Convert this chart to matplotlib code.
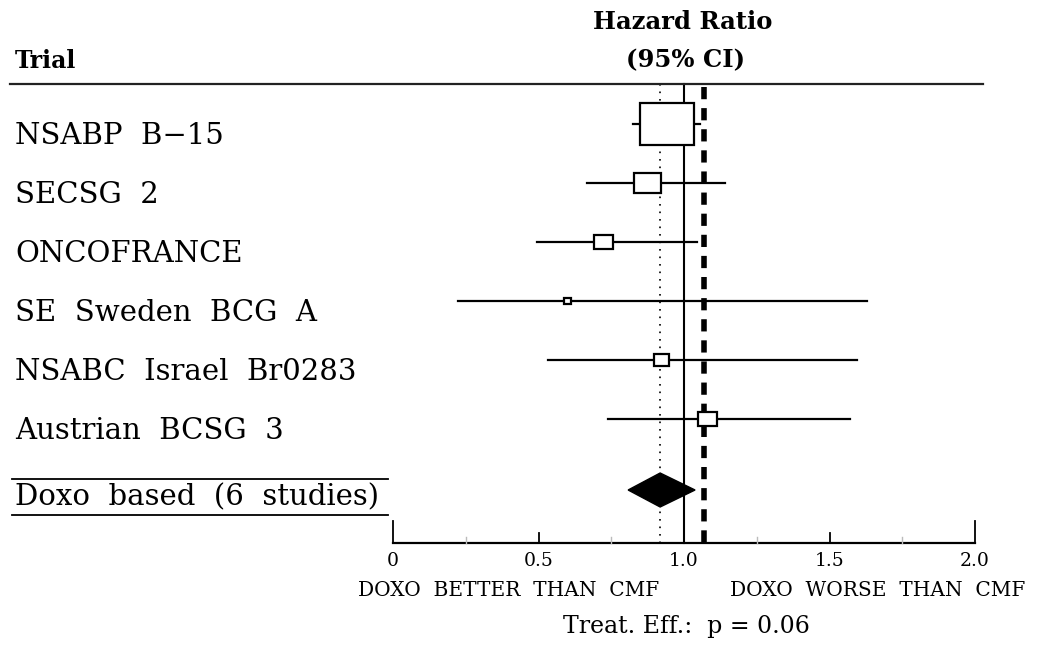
import numpy as np
import matplotlib
matplotlib.use('Agg')
import matplotlib.pyplot as plt
from matplotlib.patches import Rectangle, Polygon

# data
trials = ['NSABP  B\u221215', 'SECSG  2', 'ONCOFRANCE', 'SE  Sweden  BCG  A',
          'NSABC  Israel  Br0283', 'Austrian  BCSG  3']
hr = [0.943, 0.875, 0.723, 0.600, 0.923, 1.081]
ci_low = [0.825, 0.667, 0.495, 0.223, 0.533, 0.739]
ci_high = [1.055, 1.141, 1.045, 1.629, 1.595, 1.570]
weights = [62.8, 15.7, 7.8, 1.1, 4.8, 7.8]  # % weight -> box area

pooled_label = 'Doxo  based  (6  studies)'
pooled_hr = 0.918
pooled_low = 0.808
pooled_high = 1.038
ref_dashed = 1.07

tick_vals = [0, 0.5, 1.0, 1.5, 2.0]
tick_labels = ['0', '0.5', '1.0', '1.5', '2.0']
minor_vals = [0.25, 0.75, 1.25, 1.75]

# layout (pixels of a 1042x648 picture)
W, H = 1042, 648
X0, PXU = 393, 291      # x pixel of HR=0, pixels per HR unit
Y0, ROW = 124, 59       # y pixel of first row, pixels per row


def px2x(p):
    return (p - X0) / PXU


def px2y(p):
    return (p - Y0) / ROW


fig = plt.figure(figsize=(W / 100, H / 100), dpi=100)
ax = fig.add_axes([0, 0, 1, 1])
ax.set_xlim(px2x(0), px2x(W))
ax.set_ylim(px2y(H), px2y(0))
ax.axis('off')

serif = 'DejaVu Serif'
top_y = px2y(84)
axis_y = px2y(543)
rows = np.arange(len(trials))
pooled_y = px2y(490)

# header
ax.plot([px2x(10), px2x(983)], [top_y, top_y], color='#222222', lw=1.6)
ax.text(px2x(15), px2y(68), 'Trial', family=serif, weight='bold',
        fontsize=17, va='baseline', ha='left')
ax.text(px2x(683), px2y(29), 'Hazard Ratio', family=serif, weight='bold',
        fontsize=17.5, va='baseline', ha='center')
ax.text(px2x(685), px2y(60), '(95% CI)', family=serif, weight='bold',
        fontsize=17.5, va='center', ha='center')

# reference lines
ax.plot([1, 1], [top_y, axis_y], color='black', lw=1.5, zorder=1)
ax.plot([pooled_hr, pooled_hr], [top_y, axis_y], color='black', lw=1.2,
        linestyle=(0, (1, 3.5)), zorder=1)
ax.plot([ref_dashed, ref_dashed], [top_y + 0.05, axis_y], color='black',
        lw=4, linestyle=(0, (2.2, 1.6)), zorder=1)

# trials
box_w0 = 54 / PXU
for i, name in enumerate(trials):
    y = rows[i]
    ax.text(px2x(15), y + 12 / ROW, name, family=serif, fontsize=21,
            va='center', ha='left')
    ax.plot([ci_low[i], ci_high[i]], [y, y], color='black', lw=1.6, zorder=2)
    bw = box_w0 * np.sqrt(weights[i] / weights[0])
    bh = bw * PXU * 0.77 / ROW
    ax.add_patch(Rectangle((hr[i] - bw / 2, y - bh / 2), bw, bh,
                           facecolor='white', edgecolor='black', lw=1.6,
                           zorder=3))

# pooled
ax.plot([px2x(12), px2x(388)], [px2y(479)] * 2, color='black', lw=1.3)
ax.plot([px2x(12), px2x(388)], [px2y(515)] * 2, color='black', lw=1.3)
ax.text(px2x(15), pooled_y + 7 / ROW, pooled_label, family=serif,
        fontsize=21, va='center', ha='left')
dh = 17 / ROW
ax.add_patch(Polygon([(pooled_low, pooled_y), (pooled_hr, pooled_y - dh),
                      (pooled_high, pooled_y), (pooled_hr, pooled_y + dh)],
                     closed=True, facecolor='black', edgecolor='black',
                     zorder=3))

# axis
ax.plot([0, 2], [axis_y, axis_y], color='black', lw=1.6)
for v in tick_vals:
    ln = 22 if v in (0, 2.0) else 10
    ax.plot([v, v], [axis_y, axis_y - ln / ROW], color='black', lw=1.3)
for v in minor_vals:
    ax.plot([v, v], [axis_y, axis_y - 6 / ROW], color='#bbbbbb', lw=1)
for v, t in zip(tick_vals, tick_labels):
    ax.text(v, px2y(561), t, family=serif, fontsize=13.5, ha='center',
            va='center')

ax.text(px2x(509), px2y(590), 'DOXO  BETTER  THAN  CMF', family=serif,
        fontsize=14.5, ha='center', va='center')
ax.text(px2x(878), px2y(590), 'DOXO  WORSE  THAN  CMF', family=serif,
        fontsize=14.5, ha='center', va='center')
ax.text(px2x(686), px2y(626), 'Treat. Eff.:  p = 0.06', family=serif,
        fontsize=17, ha='center', va='center')

fig.savefig('out.png', dpi=100, facecolor='white')
